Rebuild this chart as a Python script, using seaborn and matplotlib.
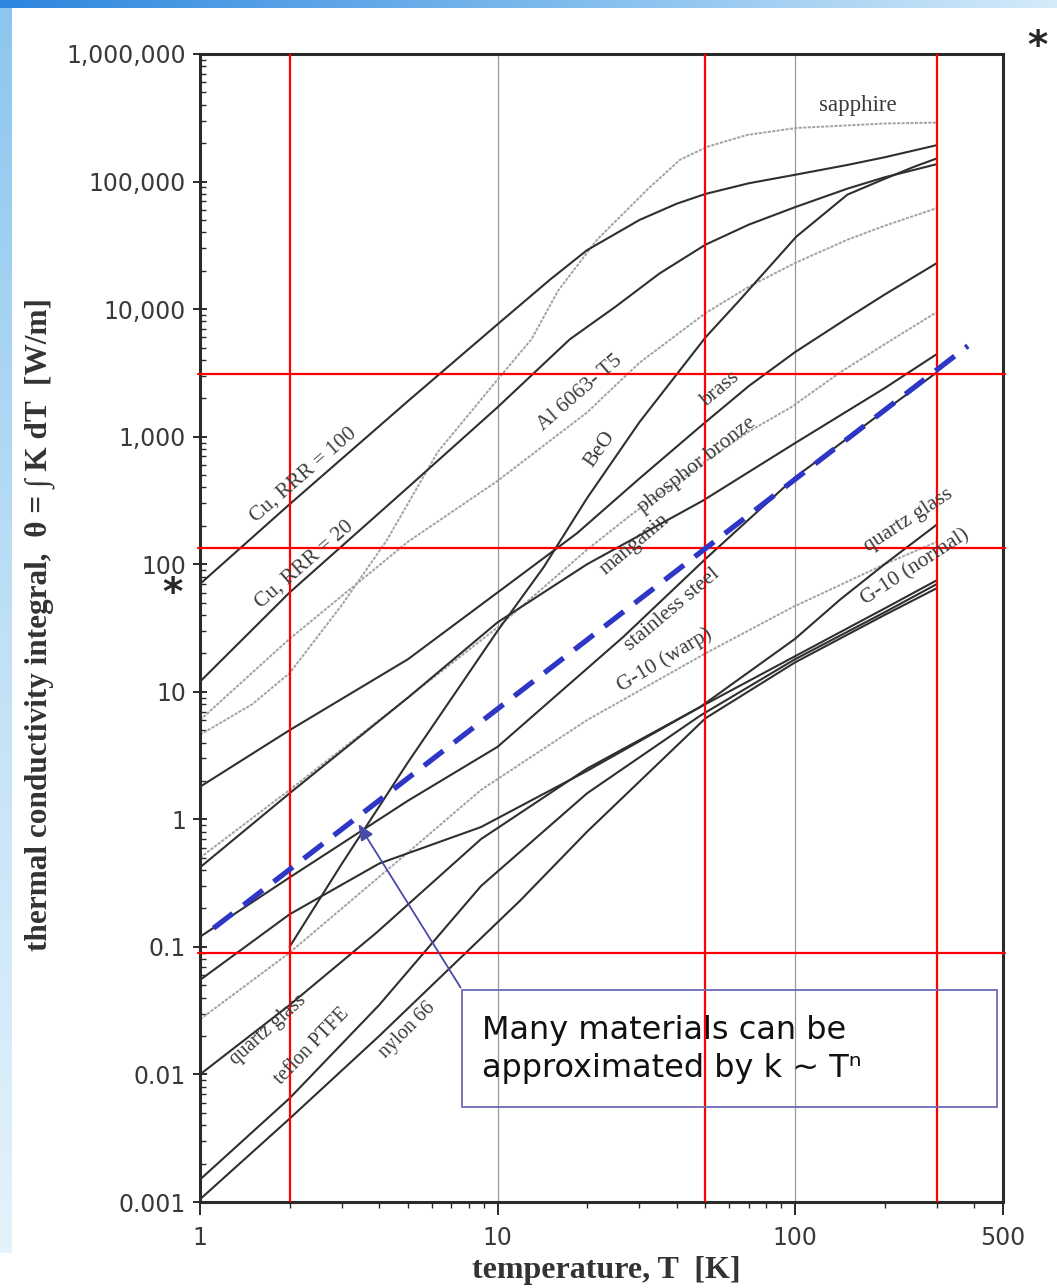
import numpy as np
import matplotlib
matplotlib.use("Agg")
import matplotlib.pyplot as plt
from matplotlib.colors import LinearSegmentedColormap
from matplotlib.patches import Rectangle
from matplotlib.ticker import FixedLocator, FuncFormatter, NullFormatter
import seaborn as sns

### Thermal conductivity integrals (log-log) ###

sns.set_theme(style="white")
plt.rcParams["font.family"] = ["DejaVu Sans"]

## Data: temperature [K] and integral [W/m] ##
T_cu100 = [1, 2, 5, 10, 15, 20, 30, 40, 50, 70, 100, 150, 200, 300]
th_cu100 = [70, 295, 1900, 7600, 17000, 29000, 50000, 67000, 80000, 97000, 113000, 135000,
            155000, 193000]

T_cu20 = [1, 2, 5, 10, 17.5, 25, 35, 50, 70, 100, 150, 200, 300]
th_cu20 = [12, 60, 400, 1700, 5800, 10500, 19000, 32000, 46000, 63000, 88000, 108000, 137000]

T_sapph = [1, 1.5, 2, 3, 4.25, 6.3, 10, 13, 16, 21.6, 31.8, 41, 50.6, 69, 101, 200, 300]
th_sapph = [4.6, 8, 14, 48, 155, 760, 2800, 5800, 14000, 35000, 86000, 148000, 187000,
            232000, 263000, 285000, 290000]

T_beo = [2, 3, 5, 10, 14.3, 20, 30, 50, 65, 101, 150, 200, 250, 300]
th_beo = [0.1, 0.45, 2.8, 30, 95, 330, 1300, 6000, 11700, 37000, 79000, 105000, 130000, 152000]

T_al = [1, 2, 5, 10, 20, 30, 50, 70, 100, 150, 200, 300]
th_al = [6, 26, 150, 450, 1550, 3800, 9300, 15000, 23000, 35000, 45000, 62000]

T_brass = [1, 2, 5, 10, 18.5, 30, 48, 70, 100, 150, 200, 300]
th_brass = [1.8, 5, 18, 60, 175, 470, 1200, 2500, 4600, 8500, 13000, 23000]

T_phos = [1, 2, 5, 10, 20, 28.5, 50, 70, 97, 142, 200, 300]
th_phos = [0.5, 1.7, 9, 32, 130, 250, 640, 1100, 1700, 3200, 5300, 9500]

T_mang = [1, 2, 5, 10, 20, 49, 100, 200, 300]
th_mang = [0.42, 1.6, 9, 35, 100, 315, 890, 2400, 4450]

T_ss = [1, 2, 5, 10, 26.5, 50, 100, 200, 300]
th_ss = [0.12, 0.35, 1.4, 3.7, 27, 110, 480, 1600, 3200]

T_g10w = [1, 2, 5, 8.8, 20, 50, 98, 200, 300]
th_g10w = [0.027, 0.09, 0.55, 1.7, 6, 20, 46, 100, 150]

T_qg = [1, 2, 3.93, 8.8, 20, 48, 100, 142, 200, 300]
th_qg = [0.01, 0.035, 0.13, 0.7, 2.5, 7.6, 26, 53, 100, 205]

T_g10n = [1, 2, 4, 8.8, 20, 48, 100, 200, 300]
th_g10n = [0.055, 0.18, 0.45, 0.87, 2.4, 7.6, 19, 45, 75]

T_ptfe = [1, 2, 4, 8.8, 20, 48, 100, 200, 300]
th_ptfe = [0.0015, 0.0065, 0.035, 0.3, 1.6, 6.5, 18, 42, 70]

T_nylon = [1, 2, 4, 11.9, 20, 50, 100, 200, 300]
th_nylon = [0.00105, 0.0045, 0.02, 0.23, 0.8, 6.2, 17, 40, 65]

# k ~ T^n guide line #
T_fit = [1.11, 381]
th_fit = [0.14, 5150]

# red marker lines #
red_T = [2, 50, 300]
red_theta = [3100, 134, 0.09]

x_ticks = [1, 10, 100, 500]
y_ticks = [0.001, 0.01, 0.1, 1, 10, 100, 1000, 10000, 100000, 1000000]

curves = [
    (T_sapph, th_sapph, "light"),
    (T_al, th_al, "light"),
    (T_phos, th_phos, "light"),
    (T_g10w, th_g10w, "light"),
    (T_cu100, th_cu100, "dark"),
    (T_cu20, th_cu20, "dark"),
    (T_beo, th_beo, "dark"),
    (T_brass, th_brass, "dark"),
    (T_mang, th_mang, "dark"),
    (T_ss, th_ss, "dark"),
    (T_qg, th_qg, "dark"),
    (T_g10n, th_g10n, "dark"),
    (T_ptfe, th_ptfe, "dark"),
    (T_nylon, th_nylon, "dark"),
]

# curve labels: text, T, theta, rotation, size #
labels = [
    ("sapphire", 163, 398000, 0, 16.5),
    ("Cu, RRR = 100", 2.22, 500, 41, 15.5),
    ("Cu, RRR = 20", 2.25, 99, 41, 15.5),
    ("Al 6063- T5", 18.9, 2200, 41, 15.5),
    ("BeO", 22.1, 790, 55, 15.5),
    ("brass", 56, 2330, 40, 15.5),
    ("phosphor bronze", 46.9, 601, 38, 15.5),
    ("manganin", 29, 142, 40, 15.5),
    ("stainless steel", 38.6, 44, 40, 15.5),
    ("G-10 (warp)", 36.6, 17.8, 31, 15.5),
    ("quartz glass", 240, 223, 33, 15.5),
    ("G-10 (normal)", 253, 94, 33, 15.5),
    ("quartz glass", 1.69, 0.0224, 42, 14.5),
    ("teflon PTFE", 2.38, 0.0165, 46, 14.5),
    ("nylon 66", 4.96, 0.0224, 45, 14.5),
]

## Figure ##
W, H = 1057, 1288
fig = plt.figure(figsize=(W / 100, H / 100), dpi=100)
fig.patch.set_facecolor("white")

# slide border (blue gradient strips) #
cmap_top = LinearSegmentedColormap.from_list("top", ["#2f86df", "#79b8ec", "#d4ebfa"])
cmap_left = LinearSegmentedColormap.from_list("left", ["#8cc6ee", "#bfe0f6", "#e4f2fb"])
ax_top = fig.add_axes([0, 1 - 8 / H, 1, 8 / H])
ax_top.imshow(np.linspace(0, 1, 256)[None, :], aspect="auto", cmap=cmap_top)
ax_top.axis("off")
ax_left = fig.add_axes([0, 35 / H, 11 / W, 1 - 43 / H])
ax_left.imshow(np.linspace(0, 1, 256)[:, None], aspect="auto", cmap=cmap_left)
ax_left.axis("off")

ax = fig.add_axes([200 / W, 1 - 1202 / H, 803 / W, 1148 / H])
ax.set_xscale("log")
ax.set_yscale("log")

dark_col = "#2f2f2f"
light_col = "#a2a2a2"
for T, th, kind in curves:
    if kind == "dark":
        sns.lineplot(x=T, y=th, ax=ax, color=dark_col, lw=1.5, zorder=3)
    else:
        sns.lineplot(x=T, y=th, ax=ax, color=light_col, lw=1.4,
                     linestyle=(0, (1.6, 0.7)), zorder=2)

# grid lines at 10 and 100 K #
for g in [10, 100]:
    ax.axvline(g, color="#9a9a9a", lw=0.9, zorder=1)

# red lines #
for t in red_T:
    ax.axvline(t, color="#ff0000", lw=1.6, zorder=4)
for v in red_theta:
    ax.axhline(v, color="#ff0000", lw=1.6, zorder=4, xmin=-0.003, xmax=1.003, clip_on=False)

# blue dashed fit #
sns.lineplot(x=T_fit, y=th_fit, ax=ax, color="#2e36c6", lw=3.8,
             linestyle=(0, (4.6, 2.6)), zorder=5)

ax.set_xlim(1, 500)
ax.set_ylim(0.001, 1000000)

# curve labels #
for txt, tx, ty, rot, fs in labels:
    ax.text(tx, ty, txt, rotation=rot, rotation_mode="anchor", ha="center", va="center",
            fontsize=fs, color="#3c3c3c", family=["Liberation Serif", "DejaVu Serif"], zorder=6)

## Axes styling ##
for s in ax.spines.values():
    s.set_visible(True)
    s.set_color("#2a2a2a")
    s.set_linewidth(2.2)

ax.xaxis.set_major_locator(FixedLocator(x_ticks))
ax.xaxis.set_major_formatter(FuncFormatter(lambda v, p: f"{int(v)}"))
x_minor = [m * d for d in [1, 10, 100] for m in range(2, 10) if m * d < 500]
ax.xaxis.set_minor_locator(FixedLocator(x_minor))
ax.xaxis.set_minor_formatter(NullFormatter())

ax.yaxis.set_major_locator(FixedLocator(y_ticks))
ax.yaxis.set_major_formatter(FuncFormatter(lambda v, p: f"{int(round(v)):,}" if v >= 1 else f"{v:g}"))
y_minor = [m * d for d in [0.001, 0.01, 0.1, 1, 10, 100, 1000, 10000, 100000] for m in range(2, 10)]
ax.yaxis.set_minor_locator(FixedLocator(y_minor))
ax.yaxis.set_minor_formatter(NullFormatter())

ax.tick_params(axis="x", which="major", direction="out", length=9, width=1.4, pad=8,
               labelsize=17, labelcolor="#3a3a3a", color="#2a2a2a", bottom=True)
ax.tick_params(axis="x", which="minor", direction="out", length=4.5, width=1.0,
               color="#2a2a2a", bottom=True)
ax.tick_params(axis="y", which="major", direction="inout", length=10, width=1.4, pad=5,
               labelsize=17, labelcolor="#3a3a3a", color="#2a2a2a", left=True)
ax.tick_params(axis="y", which="minor", direction="in", length=4, width=1.0,
               color="#2a2a2a", left=True)

ax.set_xlabel("temperature, T  [K]", fontsize=23, fontweight="bold", color="#333333",
              family=["Liberation Serif", "DejaVu Serif"])
ax.xaxis.set_label_coords(0.506, -0.047)
ax.set_ylabel("thermal conductivity integral,  θ = ∫ K dT  [W/m]", fontsize=22.5,
              fontweight="bold", color="#333333", family=["Liberation Serif", "DejaVu Serif"])
ax.yaxis.set_label_coords(-0.18, 0.503)

## Annotation box and arrow ##
ax.add_patch(Rectangle((0.326, 0.0828), 0.6665, 0.1019, transform=ax.transAxes,
                       fill=False, edgecolor="#6a6ab4", lw=1.3, zorder=7))
ax.text(0.351, 0.1325, "Many materials can be\napproximated by k ~ Tⁿ", transform=ax.transAxes,
        ha="left", va="center", fontsize=23, color="#111111", linespacing=1.3, zorder=8)
ax.annotate("", xy=(3.37, 0.957), xytext=(7.6, 0.046),
            arrowprops=dict(arrowstyle="-|>,head_length=0.8,head_width=0.35",
                            color="#4a4aa8", lw=1.3), zorder=8)

# asterisks #
fig.text(1037 / W, 1 - 47 / H, "*", fontsize=28, fontweight="bold", ha="center", va="center")
fig.text(172 / W, 1 - 594 / H, "*", fontsize=28, fontweight="bold", ha="center", va="center")

plt.savefig("out.png", dpi=100)
